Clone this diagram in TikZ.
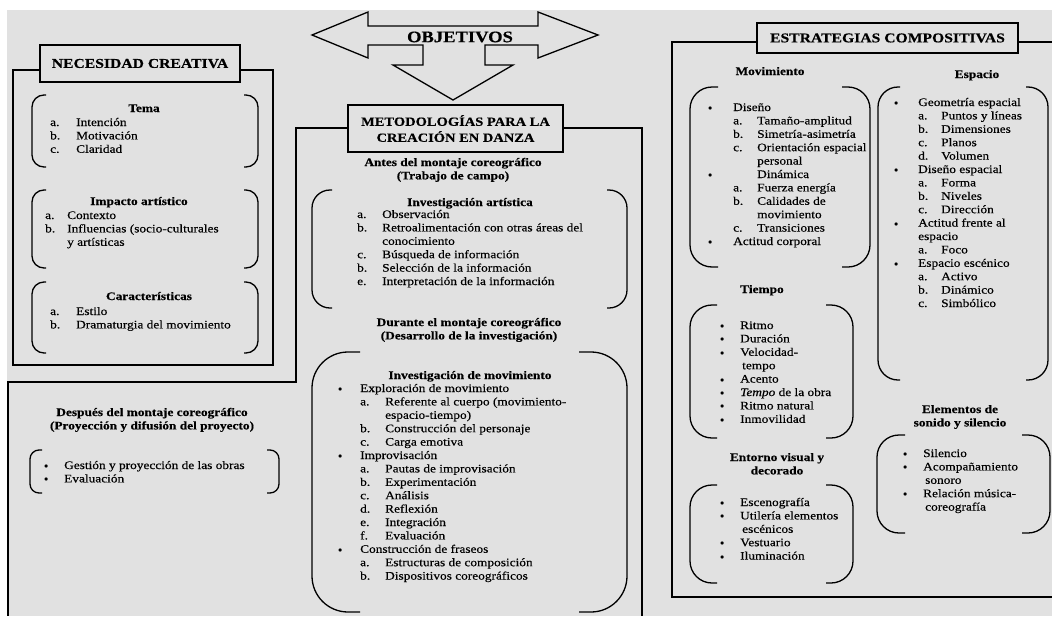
\documentclass[tikz,border=0pt]{standalone}
\usepackage{fontspec}
\setmainfont{Liberation Serif}[FakeStretch=1.16,FakeBold=0.4]
\usepackage{tikz}
\usepackage{array}

\definecolor{scan}{RGB}{225,225,225}
\newcommand{\txt}{\fontsize{11.5}{13.4}\selectfont}
\newcommand{\bul}{\raisebox{0.5pt}{$\scriptstyle\bullet$}}
% bracket pair: x0, x1, y0, y1, stub, radius
\newcommand{\bub}[6]{%
  \draw[brk,rounded corners=#6] (#1+#5,#3) -- (#1,#3) -- (#1,#4) -- (#1+#5,#4);
  \draw[brk,rounded corners=#6] (#2-#5,#3) -- (#2,#3) -- (#2,#4) -- (#2-#5,#4);}
\newcommand{\mc}[1]{\multicolumn{2}{@{}l@{}}{#1}}

\begin{document}
\begin{tikzpicture}[x=1pt,y=-1pt,
    frame/.style={line width=1.3pt},
    brk/.style={line width=1.3pt},
    tbox/.style={draw,line width=1.3pt,fill=scan,inner sep=0pt,align=center,font=\fontsize{13.5}{16}\selectfont\bfseries},
    hd/.style={anchor=base,inner sep=0pt,font=\txt\bfseries},
    lst/.style={anchor=base west,inner sep=0pt,font=\txt}]
\useasboundingbox (0,0) rectangle (1052,616);
\fill[scan] (7,10) rectangle (1052,616);

% objetivos
\draw[frame,line join=miter] (312,35) -- (368,12) -- (368,26) -- (538,26) -- (538,12) -- (598,35)
  -- (538,58) -- (538,45) -- (485,45) -- (485,65) -- (513,65) -- (453,100) -- (393,65)
  -- (423,65) -- (423,45) -- (368,45) -- (368,58) -- cycle;
\node[inner sep=0pt,font=\fontsize{16}{18}\selectfont\bfseries] (obj) at (460,37) {OBJETIVOS};

% necesidad creativa
\draw[frame] (40,70) -- (13,70) -- (13,365) -- (273,365) -- (273,70) -- (240,70);
\node[tbox,minimum width=200,minimum height=37] (nec) at (140,63.5) {NECESIDAD CREATIVA};
\bub{32}{258}{95}{167}{14}{12}
\node[hd] (tema) at (144,112) {Tema};
\node[lst] (tema-l) at (50,126) {\begin{tabular}[t]{@{}p{26pt}@{}l@{}}
  a. & Intención\\ b. & Motivación\\ c. & Claridad\end{tabular}};
\bub{32}{258}{190}{268}{14}{12}
\node[hd] (imp) at (139,205) {Impacto artístico};
\node[lst] (imp-l) at (45,219) {\begin{tabular}[t]{@{}p{22pt}@{}l@{}}
  a. & Contexto\\ b. & Influencias (socio-culturales\\ & y artísticas\end{tabular}};
\bub{32}{258}{282}{353}{14}{12}
\node[hd] (car) at (149,300) {Características};
\node[lst] (car-l) at (50,315) {\begin{tabular}[t]{@{}p{26pt}@{}l@{}}
  a. & Estilo\\ b. & Dramaturgia del movimiento\end{tabular}};

% metodologias
\draw[frame] (348,128) -- (296,128) -- (296,382) -- (8,382) -- (8,616);
\draw[frame] (563,128) -- (642,128) -- (642,616);
\node[tbox,minimum width=215,minimum height=47,font=\fontsize{12.5}{16}\selectfont\bfseries] (met) at (455.5,128.5) {METODOLOGÍAS PARA LA\\CREACIÓN EN DANZA};
\node[hd] (antes) at (453,166) {\begin{tabular}[t]{@{}c@{}}Antes del montaje coreográfico\\(Trabajo de campo)\end{tabular}};
\bub{312}{627}{190}{308}{20}{18}
\node[hd] (art) at (470,206) {Investigación artística};
\node[lst] (art-l) at (357,218) {\begin{tabular}[t]{@{}p{25pt}@{}l@{}}
  a. & Observación\\ b. & Retroalimentación con otras áreas del\\ & conocimiento\\
  c. & Búsqueda de información\\ b. & Selección de la información\\
  e. & Interpretación de la información\end{tabular}};
\node[hd] (dur) at (469,326) {\begin{tabular}[t]{@{}c@{}}Durante el montaje coreográfico\\(Desarrollo de la investigación)\end{tabular}};
\bub{312}{627}{352}{612}{48}{36}
\node[hd] (mov) at (470,379) {Investigación de movimiento};
\node[lst] (mov-l) at (338,392) {\begin{tabular}[t]{@{}p{22pt}@{}p{25pt}@{}l@{}}
  \bul & \mc{Exploración de movimiento}\\
  & a. & Referente al cuerpo (movimiento-\\ & & espacio-tiempo)\\
  & b. & Construcción del personaje\\ & c. & Carga emotiva\\
  \bul & \mc{Improvisación}\\
  & a. & Pautas de improvisación\\ & b. & Experimentación\\ & c. & Análisis\\
  & d. & Reflexión\\ & e. & Integración\\ & f. & Evaluación\\
  \bul & \mc{Construcción de fraseos}\\
  & a. & Estructuras de composición\\ & b. & Dispositivos coreográficos\end{tabular}};

% despues
\node[hd] (des) at (152,416) {\begin{tabular}[t]{@{}c@{}}Después del montaje coreográfico\\(Proyección y difusión del proyecto)\end{tabular}};
\bub{30}{279}{450}{493}{12}{9}
\node[lst] (des-l) at (44,469) {\begin{tabular}[t]{@{}p{20pt}@{}l@{}}
  \bul & Gestión y proyección de las obras\\ \bul & Evaluación\end{tabular}};

% estrategias
\draw[frame] (757,42) -- (672,42) -- (672,597) -- (1052,597);
\draw[frame] (1018,42) -- (1052,42);
\node[tbox,minimum width=261,minimum height=30] (est) at (887.5,38) {ESTRATEGIAS COMPOSITIVAS};
\node[hd] (movi) at (770,75) {Movimiento};
\bub{690}{870}{87}{267}{28}{22}
\node[lst] (movi-l) at (708,111) {\begin{tabular}[t]{@{}p{25pt}@{}p{24pt}@{}l@{}}
  \bul & \mc{Diseño}\\
  & a. & Tamaño-amplitud\\ & b. & Simetría-asimetría\\
  & c. & Orientación espacial\\ & & personal\\
  \bul & & Dinámica\\
  & a. & Fuerza energía\\ & b. & Calidades de\\ & & movimiento\\
  & c. & Transiciones\\
  \bul & \mc{Actitud corporal}\end{tabular}};
\node[hd] (esp) at (977,78) {Espacio};
\bub{878}{1048}{87}{380}{22}{20}
\node[lst] (esp-l) at (894,106) {\begin{tabular}[t]{@{}p{24pt}@{}p{23pt}@{}l@{}}
  \bul & \mc{Geometría espacial}\\
  & a. & Puntos y líneas\\ & b. & Dimensiones\\ & c. & Planos\\ & d. & Volumen\\
  \bul & \mc{Diseño espacial}\\
  & a. & Forma\\ & b. & Niveles\\ & c. & Dirección\\
  \bul & \mc{Actitud frente al}\\ & \mc{espacio}\\
  & a. & Foco\\
  \bul & \mc{Espacio escénico}\\
  & a. & Activo\\ & b. & Dinámico\\ & c. & Simbólico\end{tabular}};
\node[hd] (tie) at (762,293) {Tiempo};
\bub{690}{853}{305}{438}{27}{22}
\node[lst] (tie-l) at (720,329) {\begin{tabular}[t]{@{}p{20pt}@{}l@{}}
  \bul & Ritmo\\ \bul & Duración\\ \bul & Velocidad-\\ & \hspace{2pt}tempo\\
  \bul & Acento\\ \bul & \textit{Tempo} de la obra\\ \bul & Ritmo natural\\
  \bul & Inmovilidad\end{tabular}};
\node[hd] (ent) at (777,461) {\begin{tabular}[t]{@{}c@{}}Entorno visual y\\decorado\end{tabular}};
\bub{690}{853}{485}{583}{27}{22}
\node[lst] (ent-l) at (720,506) {\begin{tabular}[t]{@{}p{20pt}@{}l@{}}
  \bul & Escenografía\\ \bul & Utilería elementos\\ & \hspace{2pt}escénicos\\
  \bul & Vestuario\\ \bul & Iluminación\end{tabular}};
\node[hd] (son) at (960,413) {\begin{tabular}[t]{@{}c@{}}Elementos de\\sonido y silencio\end{tabular}};
\bub{877}{1050}{435}{533}{28}{22}
\node[lst] (son-l) at (903,457) {\begin{tabular}[t]{@{}p{20pt}@{}l@{}}
  \bul & Silencio\\ \bul & Acompañamiento\\ & \hspace{2pt}sonoro\\
  \bul & Relación música-\\ & \hspace{2pt}coreografía\end{tabular}};
\end{tikzpicture}
\end{document}
